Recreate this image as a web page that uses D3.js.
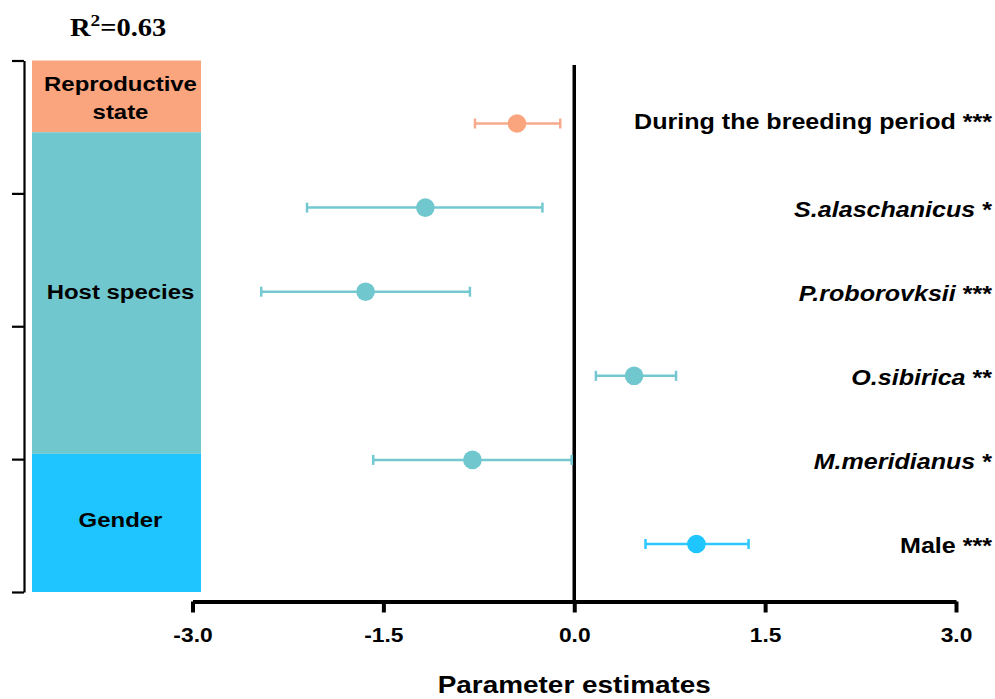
<!DOCTYPE html>
<html>
<head>
<meta charset="utf-8">
<script src="https://cdn.jsdelivr.net/npm/d3@7"></script>
<style>
  body { margin: 0; background: #fff; }
  text { font-family: Arial, "Liberation Sans", sans-serif; }
</style>
</head>
<body>
<div id="chart"></div>
<script>
// row labels, estimates and 95% CI
const terms = ["During the breeding period", "S.alaschanicus", "P.roborovksii", "O.sibirica", "M.meridianus", "Male"];
const stars = ["***", "*", "***", "**", "*", "***"];
const italic = [false, true, true, true, true, false];
const groupOf = ["Reproductive state", "Host species", "Host species", "Host species", "Host species", "Gender"];
const estimate = [-0.45, -1.17, -1.64, 0.47, -0.80, 0.96];
const lower = [-0.78, -2.10, -2.46, 0.17, -1.58, 0.56];
const upper = [-0.11, -0.25, -0.82, 0.80, -0.02, 1.37];

const groups = ["Reproductive state", "Host species", "Gender"];
const groupStart = [0, 0.54, 2.96];
const groupEnd = [0.54, 2.96, 4];
const groupColor = ["#FBA57E", "#70C7CD", "#1EC5FF"];
const barColor = ["#F8AA8C", "#74C9D0", "#2CC8FF"];

const xTicks = [-3.0, -1.5, 0.0, 1.5, 3.0];

const width = 995, height = 699;
const stretch = "scale(1.14,1)"; // the original text is a bit wider than Arial
const svg = d3.select("#chart").append("svg")
  .attr("width", width).attr("height", height);

const x = d3.scaleLinear().domain([-3, 3]).range([192.5, 956]);
const yBox = d3.scaleLinear().domain([0, 4]).range([60.5, 592]);
const yRow = d3.scalePoint().domain(terms).range([123.5, 544]);

// stretched text helper
function label(px, py, anchor, size) {
  return svg.append("g")
    .attr("transform", `translate(${px},${py}) ${stretch}`)
    .append("text")
    .attr("text-anchor", anchor)
    .style("font-weight", "bold").style("font-size", size + "px");
}

// title
const title = label(70, 36, "start", 25)
  .style("font-family", "'Liberation Serif', 'Times New Roman', serif");
title.append("tspan").text("R");
title.append("tspan").attr("dy", -10).style("font-size", "17px").text("2");
title.append("tspan").attr("dy", 10).text("=0.63");

// left bracket axis
svg.append("g")
  .attr("transform", "translate(24,0)")
  .call(d3.axisLeft(yBox).tickValues([0, 1, 2, 3, 4]).tickFormat("").tickSize(12).tickSizeOuter(0))
  .call(g => g.selectAll("line, path").attr("stroke", "#000").attr("stroke-width", 2.2));

// group boxes
svg.append("g").selectAll("rect")
  .data(groups)
  .join("rect")
  .attr("x", 32).attr("width", 169)
  .attr("y", (d, i) => yBox(groupStart[i]))
  .attr("height", (d, i) => yBox(groupEnd[i]) - yBox(groupStart[i]))
  .attr("fill", (d, i) => groupColor[i]);

const boxLabels = [
  { lines: ["Reproductive", "state"], y: 91 },
  { lines: ["Host species"], y: 298.5 },
  { lines: ["Gender"], y: 526.5 }
];
boxLabels.forEach(b => {
  const t = label(120.5, b.y, "middle", 21);
  b.lines.forEach((l, i) => {
    t.append("tspan").attr("x", 0).attr("y", i * 28).text(l);
  });
});

// x axis
const xAxis = svg.append("g")
  .attr("transform", "translate(0,601.5)")
  .call(d3.axisBottom(x).tickValues(xTicks).tickFormat(d => d.toFixed(1)).tickSize(11).tickSizeOuter(0));
xAxis.select(".domain").attr("stroke", "#000").attr("stroke-width", 4);
xAxis.selectAll(".tick line").attr("stroke", "#000").attr("stroke-width", 4);
xAxis.selectAll(".tick text")
  .attr("y", 41).attr("dy", 0)
  .attr("transform", stretch)
  .style("font-family", "Arial, 'Liberation Sans', sans-serif")
  .style("font-weight", "bold").style("font-size", "20px").attr("fill", "#000");

label(x(0), 692.5, "middle", 24.5).text("Parameter estimates");

// zero line
svg.append("line")
  .attr("x1", x(0)).attr("x2", x(0))
  .attr("y1", 65).attr("y2", 601)
  .attr("stroke", "#000").attr("stroke-width", 3.5);

// error bars and points
const colorOf = i => barColor[groups.indexOf(groupOf[i])];
const dotColor = i => groupColor[groups.indexOf(groupOf[i])];
const rows = svg.append("g").selectAll("g")
  .data(terms)
  .join("g")
  .attr("transform", d => `translate(0,${yRow(d)})`);

rows.append("line")
  .attr("x1", (d, i) => x(lower[i])).attr("x2", (d, i) => x(upper[i]))
  .attr("stroke", (d, i) => colorOf(i)).attr("stroke-width", 2.5);
rows.append("line")
  .attr("x1", (d, i) => x(lower[i])).attr("x2", (d, i) => x(lower[i]))
  .attr("y1", -5).attr("y2", 5)
  .attr("stroke", (d, i) => colorOf(i)).attr("stroke-width", 2.5);
rows.append("line")
  .attr("x1", (d, i) => x(upper[i])).attr("x2", (d, i) => x(upper[i]))
  .attr("y1", -5).attr("y2", 5)
  .attr("stroke", (d, i) => colorOf(i)).attr("stroke-width", 2.5);
rows.append("circle")
  .attr("cx", (d, i) => x(estimate[i])).attr("r", 9.3)
  .attr("fill", (d, i) => dotColor(i));

// row labels (the first one sits a little higher in the original)
const lbl = rows.append("g")
  .attr("transform", (d, i) => `translate(992,${i === 0 ? 5.5 : 9}) ${stretch}`)
  .append("text")
  .attr("text-anchor", "end")
  .style("font-weight", "bold").style("font-size", "22px");
lbl.append("tspan")
  .style("font-style", (d, i) => italic[i] ? "italic" : "normal")
  .text(d => d);
lbl.append("tspan").text((d, i) => " " + stars[i]);
</script>
</body>
</html>
